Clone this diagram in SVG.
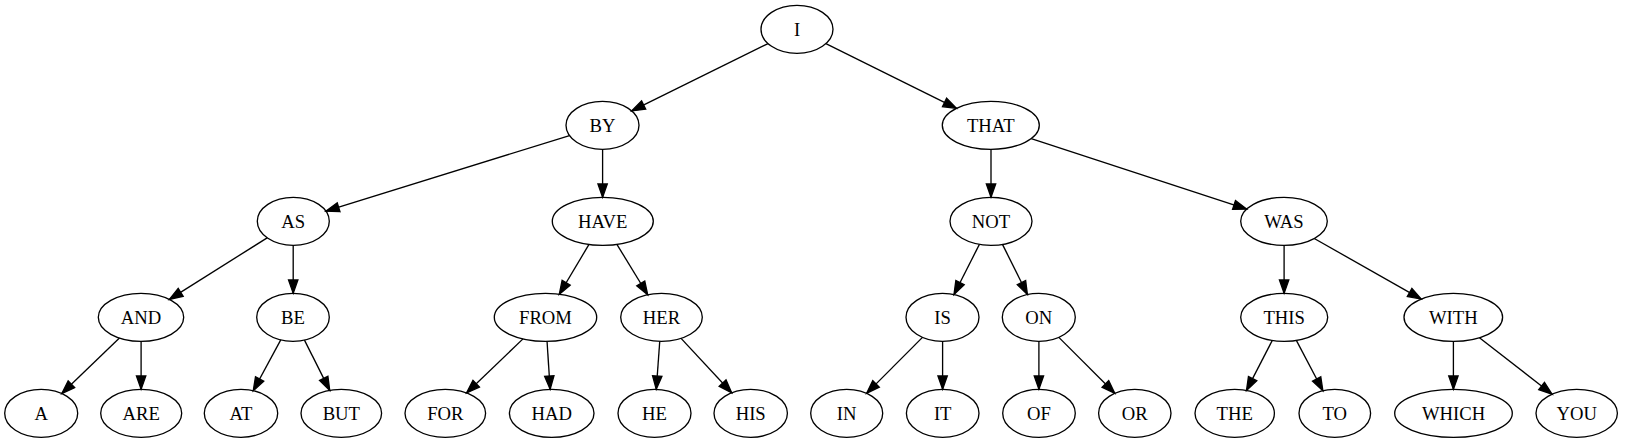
<svg xmlns="http://www.w3.org/2000/svg" width="1627" height="443" viewBox="0 0 1627 443">
<style>
.n ellipse{fill:none;stroke:#000;stroke-width:1.33}
.n text{font-family:"Liberation Serif","Times New Roman",serif;font-size:18.67px;text-anchor:middle;fill:#000}
#edges path{fill:none;stroke:#000;stroke-width:1.33;marker-end:url(#arr)}
</style>
<defs>
<marker id="arr" markerUnits="userSpaceOnUse" markerWidth="16" markerHeight="12" viewBox="0 0 16 12" refX="14.33" refY="6" orient="auto" overflow="visible">
<path d="M1,1.33 L14.33,6 L1,10.67 Z" fill="#000" stroke="#000" stroke-width="1.33"/>
</marker>
</defs>
<rect width="1627" height="443" fill="#fff"/>
<g id="edges">
<path d="M768.06,43.61 L631.7,110.9"/>
<path d="M825.9,43.64 L956.5,108.35"/>
<path d="M569.5,135.58 L325.9,211.2"/>
<path d="M602.6,149.33 L602.6,197.33"/>
<path d="M991,149.33 L991,197.33"/>
<path d="M1031.25,138.57 L1246.7,209.12"/>
<path d="M267.14,237.82 L169.42,299.42"/>
<path d="M293.2,245.33 L293.2,293.33"/>
<path d="M589,244.42 L559.3,294.22"/>
<path d="M616.9,244.37 L647.7,294.75"/>
<path d="M979.4,244.34 L954,294.55"/>
<path d="M1002.5,244.37 L1027.4,294.52"/>
<path d="M1284.1,245.33 L1284.1,293.33"/>
<path d="M1314.27,238.49 L1421.2,299.12"/>
<path d="M119.46,338.05 L61.8,393.52"/>
<path d="M141.1,341.33 L141.1,389.33"/>
<path d="M280.76,339.93 L253.25,390.71"/>
<path d="M304.46,340.1 L329.73,390.34"/>
<path d="M523,338.89 L466.57,392.95"/>
<path d="M547.05,341.32 L550.15,389.35"/>
<path d="M659.75,341.31 L656.25,389.36"/>
<path d="M681.07,338.39 L731.65,392.82"/>
<path d="M922.48,337.4 L866.64,393.35"/>
<path d="M942.6,341.33 L942.6,389.33"/>
<path d="M1038.9,341.33 L1038.9,389.33"/>
<path d="M1058.85,337.38 L1114.8,393.33"/>
<path d="M1272.3,340.41 L1246.5,390.42"/>
<path d="M1296.35,340.37 L1322.87,390.7"/>
<path d="M1453.4,341.33 L1453.4,389.33"/>
<path d="M1479.45,337.67 L1552.11,394.2"/>
</g>
<g id="node-I" class="n"><ellipse cx="797" cy="29.33" rx="36" ry="24"/><text x="797" y="35.8">I</text></g>
<g id="node-BY" class="n"><ellipse cx="602.5" cy="125.33" rx="36.5" ry="24"/><text x="602.5" y="131.8">BY</text></g>
<g id="node-THAT" class="n"><ellipse cx="990.8" cy="125.33" rx="48.5" ry="24"/><text x="990.8" y="131.8">THAT</text></g>
<g id="node-AS" class="n"><ellipse cx="293.3" cy="221.33" rx="36" ry="24"/><text x="293.3" y="227.8">AS</text></g>
<g id="node-HAVE" class="n"><ellipse cx="602.8" cy="221.33" rx="50.5" ry="24"/><text x="602.8" y="227.8">HAVE</text></g>
<g id="node-NOT" class="n"><ellipse cx="991" cy="221.33" rx="41" ry="24"/><text x="991" y="227.8">NOT</text></g>
<g id="node-WAS" class="n"><ellipse cx="1284" cy="221.33" rx="43.3" ry="24"/><text x="1284" y="227.8">WAS</text></g>
<g id="node-AND" class="n"><ellipse cx="141" cy="317.33" rx="42.7" ry="24"/><text x="141" y="323.8">AND</text></g>
<g id="node-BE" class="n"><ellipse cx="293" cy="317.33" rx="36.3" ry="24"/><text x="293" y="323.8">BE</text></g>
<g id="node-FROM" class="n"><ellipse cx="545.5" cy="317.33" rx="51.2" ry="24"/><text x="545.5" y="323.8">FROM</text></g>
<g id="node-HER" class="n"><ellipse cx="661.5" cy="317.33" rx="40.8" ry="24"/><text x="661.5" y="323.8">HER</text></g>
<g id="node-IS" class="n"><ellipse cx="942.5" cy="317.33" rx="36.5" ry="24"/><text x="942.5" y="323.8">IS</text></g>
<g id="node-ON" class="n"><ellipse cx="1038.8" cy="317.33" rx="36.5" ry="24"/><text x="1038.8" y="323.8">ON</text></g>
<g id="node-THIS" class="n"><ellipse cx="1284.2" cy="317.33" rx="43.5" ry="24"/><text x="1284.2" y="323.8">THIS</text></g>
<g id="node-WITH" class="n"><ellipse cx="1453.3" cy="317.33" rx="49.3" ry="24"/><text x="1453.3" y="323.8">WITH</text></g>
<g id="node-A" class="n"><ellipse cx="41.2" cy="413.33" rx="36.5" ry="24"/><text x="41.2" y="419.8">A</text></g>
<g id="node-ARE" class="n"><ellipse cx="141.2" cy="413.33" rx="40.5" ry="24"/><text x="141.2" y="419.8">ARE</text></g>
<g id="node-AT" class="n"><ellipse cx="241" cy="413.33" rx="36.7" ry="24"/><text x="241" y="419.8">AT</text></g>
<g id="node-BUT" class="n"><ellipse cx="341.3" cy="413.33" rx="40.3" ry="24"/><text x="341.3" y="419.8">BUT</text></g>
<g id="node-FOR" class="n"><ellipse cx="445.3" cy="413.33" rx="40.3" ry="24"/><text x="445.3" y="419.8">FOR</text></g>
<g id="node-HAD" class="n"><ellipse cx="551.7" cy="413.33" rx="42.3" ry="24"/><text x="551.7" y="419.8">HAD</text></g>
<g id="node-HE" class="n"><ellipse cx="654.5" cy="413.33" rx="36.5" ry="24"/><text x="654.5" y="419.8">HE</text></g>
<g id="node-HIS" class="n"><ellipse cx="750.7" cy="413.33" rx="36.7" ry="24"/><text x="750.7" y="419.8">HIS</text></g>
<g id="node-IN" class="n"><ellipse cx="846.7" cy="413.33" rx="36" ry="24"/><text x="846.7" y="419.8">IN</text></g>
<g id="node-IT" class="n"><ellipse cx="942.7" cy="413.33" rx="36.3" ry="24"/><text x="942.7" y="419.8">IT</text></g>
<g id="node-OF" class="n"><ellipse cx="1039" cy="413.33" rx="36.3" ry="24"/><text x="1039" y="419.8">OF</text></g>
<g id="node-OR" class="n"><ellipse cx="1134.8" cy="413.33" rx="36.2" ry="24"/><text x="1134.8" y="419.8">OR</text></g>
<g id="node-THE" class="n"><ellipse cx="1234.7" cy="413.33" rx="39.7" ry="24"/><text x="1234.7" y="419.8">THE</text></g>
<g id="node-TO" class="n"><ellipse cx="1334.8" cy="413.33" rx="35.8" ry="24"/><text x="1334.8" y="419.8">TO</text></g>
<g id="node-WHICH" class="n"><ellipse cx="1453.5" cy="413.33" rx="58.8" ry="24"/><text x="1453.5" y="419.8">WHICH</text></g>
<g id="node-YOU" class="n"><ellipse cx="1576.7" cy="413.33" rx="40.7" ry="24"/><text x="1576.7" y="419.8">YOU</text></g>
</svg>
